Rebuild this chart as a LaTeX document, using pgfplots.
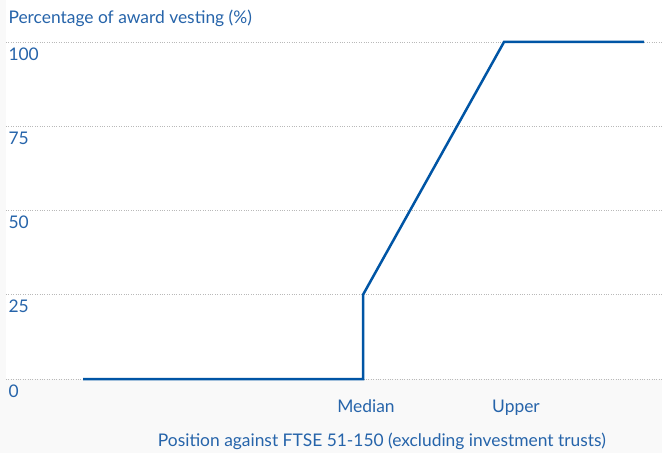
\documentclass[border=0pt]{standalone}
\usepackage{fontspec}
\setmainfont{Lato}
\usepackage{pgfplots}
\pgfplotsset{compat=1.18}
\definecolor{textblue}{RGB}{38,100,170}
\definecolor{lineblue}{RGB}{0,85,165}
\definecolor{gridgray}{RGB}{185,185,185}
\definecolor{pagegray}{RGB}{249,249,249}

\begin{document}
\begin{tikzpicture}[font=\fontsize{17.4}{20}\selectfont]
% page and plot area backgrounds
\fill[pagegray] (-6pt,-74pt) rectangle (656pt,379pt);
\fill[white] (0pt,0pt) rectangle (656pt,379pt);
\begin{axis}[
  at={(0pt,0pt)}, anchor=south west,
  scale only axis,
  width=656pt, height=337pt,
  xmin=0, xmax=656,
  ymin=0, ymax=100,
  ytick={0,25,50,75,100},
  xtick={360,510},
  xticklabels={Median,Upper},
  ymajorgrids,
  major grid style={gridgray, dotted, line width=0.8pt},
  axis line style={draw=none},
  tick style={draw=none},
  ticklabel style={text=textblue},
  yticklabel style={anchor=north west, xshift=-1pt, yshift=-2pt},
  xticklabel style={anchor=base, yshift=-33pt},
  /pgf/number format/assume math mode=true,
  clip=false,
]
\addplot[lineblue, line width=2.5pt, line join=miter] coordinates {
  (77,0) (357,0) (357,25) (498,100) (638,100)
};
\node[anchor=base west, text=textblue] at (axis description cs:0,1) [xshift=-1pt, yshift=18pt] {Percentage of award vesting (\%)};
\node[anchor=base, text=textblue] at (axis description cs:0.573,0) [yshift=-67pt] {Position against FTSE 51-150 (excluding investment trusts)};
\end{axis}
\pgfresetboundingbox
\useasboundingbox (-6pt,-74pt) rectangle (656pt,379pt);
\end{tikzpicture}
\end{document}
